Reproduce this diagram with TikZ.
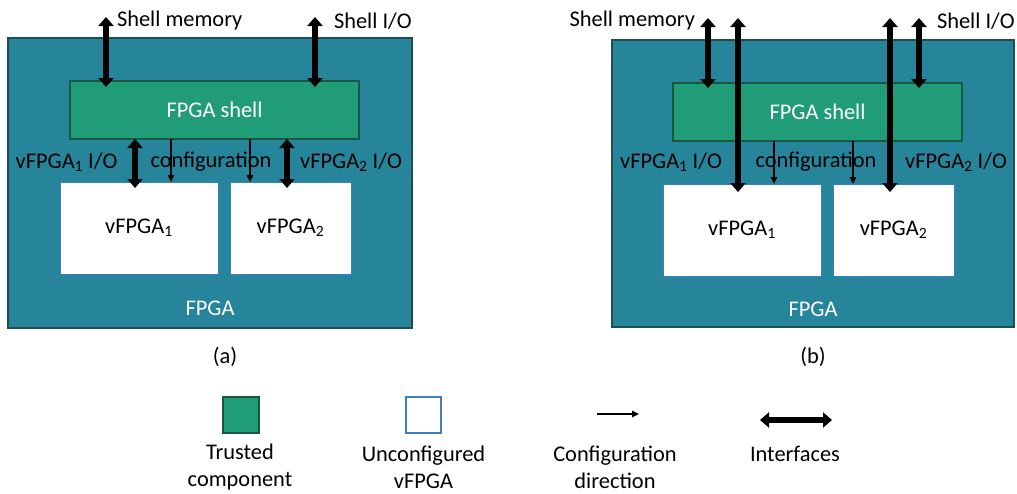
\documentclass[tikz,border=0pt]{standalone}
\usepackage{fontspec}
\setmainfont{Carlito}
\usetikzlibrary{arrows.meta}
\definecolor{fpgafill}{RGB}{38,132,155}
\definecolor{fpgaline}{RGB}{28,80,78}
\definecolor{shellfill}{RGB}{32,156,121}
\definecolor{shellline}{RGB}{22,88,66}
\definecolor{vline}{RGB}{60,125,195}
\begin{document}
\begin{tikzpicture}[x=1pt,y=-1pt,
  every node/.style={font=\fontsize{22.4}{27}\selectfont, inner sep=0pt, outer sep=0pt},
  fpga/.style={draw=fpgaline, line width=1.2pt, fill=fpgafill},
  shell/.style={draw=shellline, line width=1.2pt, fill=shellfill, text=white},
  vbox/.style={draw=vline, line width=1pt, fill=white},
  io/.style={line width=6pt, {Triangle[width=15pt,length=9pt]}-{Triangle[width=15pt,length=9pt]}},
  cfg/.style={line width=1.4pt, -{Triangle[width=6.5pt,length=7pt]}},
  lbl/.style={text=black},
  wlbl/.style={text=white}]

\useasboundingbox (0,0) rectangle (1017,493);

% ---------------- panel (a)
\node[fpga, minimum width=404pt, minimum height=290pt] (fpgaA) at (210,183) {};
\node[wlbl] (fpgaTA) at (210,308) {FPGA};
\node[shell, minimum width=289pt, minimum height=58pt] (shellA) at (214.5,110) {FPGA shell};
\node[vbox, minimum width=158pt, minimum height=92pt] (v1A) at (139,228) {vFPGA\textsubscript{1}};
\node[vbox, minimum width=121pt, minimum height=92pt] (v2A) at (290.5,228) {vFPGA\textsubscript{2}};

\coordinate (memA) at (106,17);
\coordinate (sioA) at (315,17);
\coordinate (xA1) at (135,0);
\coordinate (xA2) at (287,0);
\coordinate (xAc1) at (171,0);
\coordinate (xAc2) at (250,0);

\draw[io, shorten >=-6pt] (memA) -- (memA |- shellA.north);
\draw[io, shorten >=-6pt] (sioA) -- (sioA |- shellA.north);
\draw[io, shorten >=-6pt] (shellA.south -| xA1) -- (v1A.north -| xA1);
\draw[io, shorten >=-6pt] (shellA.south -| xA2) -- (v2A.north -| xA2);
\draw[cfg] (shellA.south -| xAc1) -- (v1A.north -| xAc1);
\draw[cfg] (shellA.south -| xAc2) -- (v2A.north -| xAc2);

\node[lbl, anchor=west] (lmemA) at (117,21) {Shell memory};
\node[lbl, anchor=west] (lsioA) at (334,21) {Shell I/O};
\node[lbl] (lv1A) at (66.5,162) {vFPGA\textsubscript{1} I/O};
\node[lbl] (lcfgA) at (211,162) {configuration};
\node[lbl] (lv2A) at (351,162) {vFPGA\textsubscript{2} I/O};
\node[lbl] (capA) at (225,357) {(a)};

% ---------------- panel (b)
\node[fpga, minimum width=402pt, minimum height=287pt] (fpgaB) at (813,183.5) {};
\node[wlbl] (fpgaTB) at (813,309) {FPGA};
\node[shell, minimum width=289pt, minimum height=58pt] (shellB) at (817.5,112) {FPGA shell};
\node[vbox, minimum width=158pt, minimum height=92pt] (v1B) at (742,230) {vFPGA\textsubscript{1}};
\node[vbox, minimum width=121pt, minimum height=92pt] (v2B) at (893.5,230) {vFPGA\textsubscript{2}};

\coordinate (memB) at (708,18);
\coordinate (sioB) at (919,18);
\coordinate (l1B) at (738,18);
\coordinate (l2B) at (890,18);
\coordinate (xBc1) at (774,0);
\coordinate (xBc2) at (853,0);

\draw[cfg] (shellB.south -| xBc1) -- (v1B.north -| xBc1);
\draw[cfg] (shellB.south -| xBc2) -- (v2B.north -| xBc2);
\draw[io, shorten >=-5pt] (memB) -- (memB |- shellB.north);
\draw[io, shorten >=-5pt] (sioB) -- (sioB |- shellB.north);
\draw[io, shorten >=-8pt] (l1B) -- (l1B |- v1B.north);
\draw[io, shorten >=-8pt] (l2B) -- (l2B |- v2B.north);

\node[lbl, anchor=east] (lmemB) at (695,21) {Shell memory};
\node[lbl, anchor=west] (lsioB) at (937,21) {Shell I/O};
\node[lbl] (lv1B) at (671,162) {vFPGA\textsubscript{1} I/O};
\node[lbl] (lcfgB) at (816,162) {configuration};
\node[lbl] (lv2B) at (956,162) {vFPGA\textsubscript{2} I/O};
\node[lbl] (capB) at (813,357) {(b)};

% ---------------- legend
\node[draw=shellline, line width=1.2pt, fill=shellfill, minimum width=36pt, minimum height=36pt] (legT) at (241,415) {};
\node[vbox, line width=1.2pt, minimum width=35pt, minimum height=36pt] (legU) at (423.5,415) {};
\coordinate (legCa) at (597,414);
\coordinate (legCb) at (639,414);
\draw[cfg] (legCa) -- (legCb);
\coordinate (legIa) at (760,420);
\coordinate (legIb) at (832,420);
\draw[io] (legIa) -- (legIb);

\node[lbl, align=center] (legTt) at (240,467) {Trusted\\component};
\node[lbl, align=center] (legUt) at (423.5,467) {Unconfigured\\vFPGA};
\node[lbl, align=center] (legCt) at (615,467) {Configuration\\direction};
\node[lbl] (legIt) at (795,454) {Interfaces};
\end{tikzpicture}
\end{document}
